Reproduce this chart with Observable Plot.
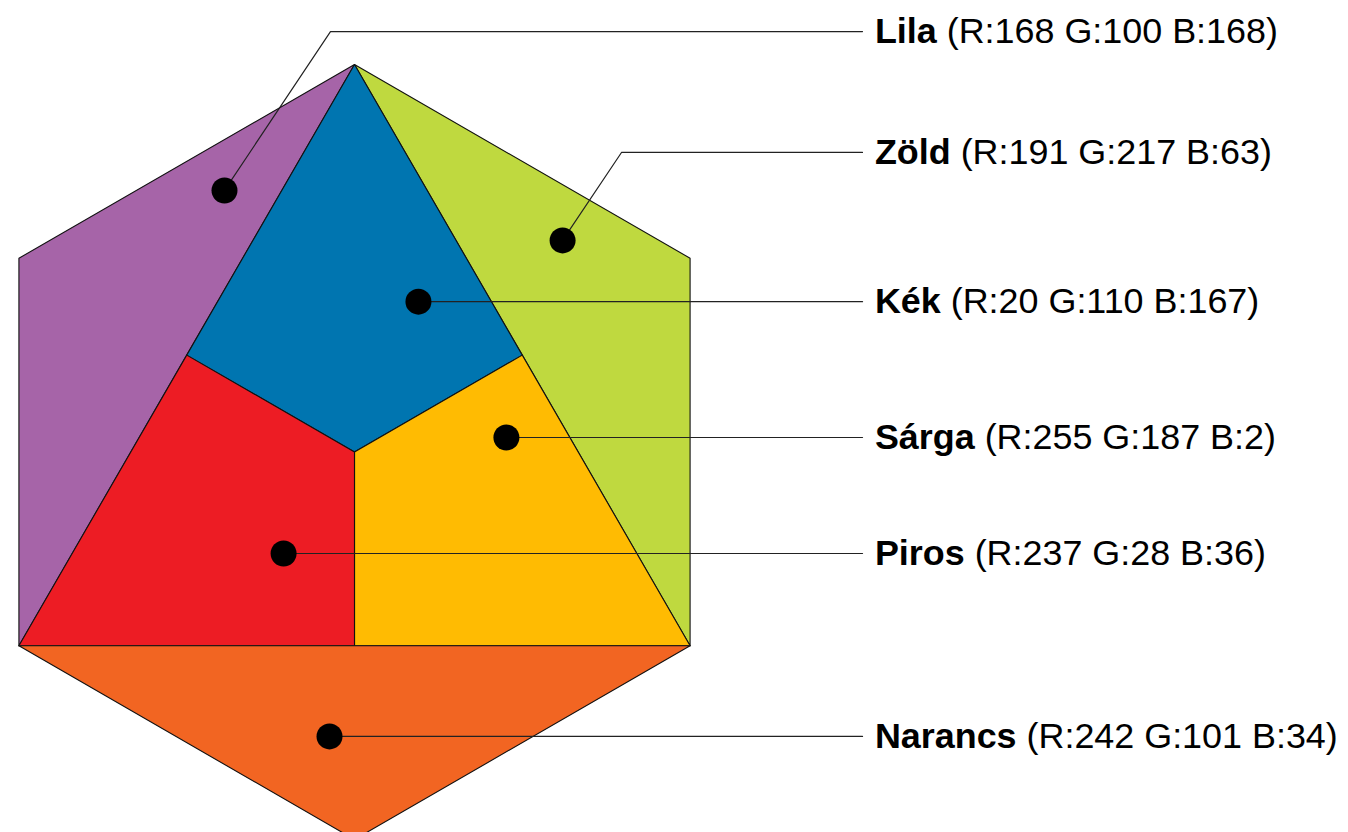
<!DOCTYPE html>
<html><head><meta charset="utf-8">
<script src="https://cdn.jsdelivr.net/npm/d3@7"></script>
<script src="https://cdn.jsdelivr.net/npm/@observablehq/plot@0.6"></script>
<style>html,body{margin:0;padding:0;background:#fff;overflow:hidden}</style>
</head><body><div id="chart"></div>
<script>
// Categories and their RGB values
const names = ["Lila", "Zöld", "Kék", "Sárga", "Piros", "Narancs"];
const rgbR = [168, 191, 20, 255, 237, 242];
const rgbG = [100, 217, 110, 187, 28, 101];
const rgbB = [168, 63, 167, 2, 36, 34];

// Hexagon geometry in unit coordinates (circumradius 1, centre 0,0)
const s3 = Math.sqrt(3) / 2;
const vertexNames = ["top", "ur", "lr", "bottom", "ll", "ul", "ml", "mr", "mb", "c"];
const vertexU = [0, s3, s3, 0, -s3, -s3, -s3 / 2, s3 / 2, 0, 0];
const vertexV = [1, 0.5, -0.5, -1, -0.5, 0.5, 0.25, 0.25, -0.5, 0];
const regionVertices = [
  ["top", "ul", "ll"],
  ["top", "ur", "lr"],
  ["top", "ml", "c", "mr"],
  ["c", "mb", "lr", "mr"],
  ["ml", "ll", "mb", "c"],
  ["ll", "lr", "bottom"]
];

// Label anchors (unit coordinates)
const dotU = [-0.3355, 0.537, 0.165, 0.392, -0.183, -0.0645];
const dotV = [0.675, 0.546, 0.388, 0.0374, -0.262, -0.734];
const labelV = [1.085, 0.773, 0.388, 0.0374, -0.262, -0.734];
const elbowU = [-0.062, 0.689, null, null, null, null];
const lineEndU = 1.311;
const labelU = 1.343;

const W = 1348, H = 832;
const xDomain = [-0.91355, 2.56516];
const yDomain = [-0.98194, 1.16516];
const pxPerUnit = W / (xDomain[1] - xDomain[0]);

const fillColors = ["rgb(166,100,168)", "rgb(191,217,63)", "rgb(0,117,176)", "rgb(255,187,2)", "rgb(237,28,36)", "rgb(242,101,34)"];

const vIndex = Object.fromEntries(vertexNames.map((n, i) => [n, i]));
const polyPoints = [];
regionVertices.forEach((vs, r) => vs.forEach(v => polyPoints.push({region: names[r], u: vertexU[vIndex[v]], v: vertexV[vIndex[v]]})));

const leaderPoints = [];
names.forEach((n, i) => {
  leaderPoints.push({name: n, u: dotU[i], v: dotV[i]});
  if (elbowU[i] != null) leaderPoints.push({name: n, u: elbowU[i], v: labelV[i]});
  leaderPoints.push({name: n, u: lineEndU, v: labelV[i]});
});

const FS = 35.9;
const FONT = "'Liberation Sans', Arial, sans-serif";
const ctx = document.createElement("canvas").getContext("2d");
function measure(t, weight) { ctx.font = `${weight} ${FS}px ${FONT}`; return ctx.measureText(t).width; }

const labels = names.map((n, i) => ({
  name: n,
  detail: `(R:${rgbR[i]} G:${rgbG[i]} B:${rgbB[i]})`,
  v: labelV[i],
  u: labelU,
  u2: labelU + (measure(n, "bold") + measure(" ", "normal")) / pxPerUnit
}));
const dots = names.map((n, i) => ({name: n, u: dotU[i], v: dotV[i]}));

const chart = Plot.plot({
  width: W, height: H,
  margin: 0,
  x: {domain: xDomain, axis: null},
  y: {domain: yDomain, axis: null},
  color: {domain: names, range: fillColors},
  style: {background: "white"},
  marks: [
    Plot.line(polyPoints, {x: "u", y: "v", z: "region", fill: "region", stroke: "#111", strokeWidth: 1.1, curve: "linear-closed"}),
    Plot.line(leaderPoints, {x: "u", y: "v", z: "name", stroke: "#222", strokeWidth: 1.2}),
    Plot.dot(dots, {x: "u", y: "v", r: 13, fill: "black", stroke: "none"}),
    Plot.text(labels, {x: "u", y: "v", text: "name", textAnchor: "start", fontWeight: "bold", fontSize: FS, fontFamily: FONT, fill: "black"}),
    Plot.text(labels, {x: "u2", y: "v", text: "detail", textAnchor: "start", fontWeight: "normal", fontSize: FS, fontFamily: FONT, fill: "black"})
  ]
});
document.getElementById("chart").appendChild(chart);
</script>
</body></html>
